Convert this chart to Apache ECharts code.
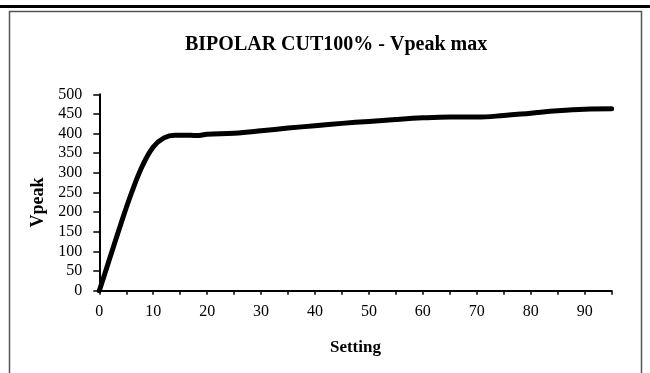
<!DOCTYPE html>
<html>
<head>
<meta charset="utf-8">
<script src="https://cdn.jsdelivr.net/npm/echarts@6/dist/echarts.min.js"></script>
<style>
  html, body { margin: 0; padding: 0; background: #fff; }
  #chart { width: 650px; height: 373px; }
</style>
</head>
<body>
<div id="chart"></div>
<script>
// Vpeak measured against generator setting
const settings = [0, 2, 4, 6, 8, 10, 12, 14, 16, 18, 20, 25, 30, 35, 40, 45, 50, 55, 60, 65, 70, 75, 80, 85, 90, 95];
const vpeak    = [0, 85, 170, 250, 318, 366, 389, 396, 396, 395, 398, 401, 407, 414, 420, 426, 431, 436, 440, 442, 442, 446, 452, 458, 462, 463];
const yTicks = { min: 0, max: 500, step: 50 };
const xTicks = { min: 0, max: 95, step: 5, labelStep: 10 };

const serif = '"Liberation Serif", "DejaVu Serif", serif';
const chart = echarts.init(document.getElementById('chart'), null, { renderer: 'canvas' });

chart.setOption({
  animation: false,
  backgroundColor: '#fff',
  title: {
    text: 'BIPOLAR CUT100% - Vpeak max',
    left: 180,
    top: 30,
    textStyle: { fontFamily: serif, fontWeight: 'bold', fontSize: 20, color: '#000' }
  },
  graphic: [
    // page header, cut off at the top edge
    { type: 'text', left: 'center', top: -11, style: { text: 'DEEP COAG', font: '15px ' + serif, fill: '#000' } },
    { type: 'rect', shape: { x: 0, y: 5, width: 650, height: 3 }, style: { fill: '#000' } },
    // chart frame
    { type: 'polyline', shape: { points: [[9.5, 380], [9.5, 11.5], [641.5, 11.5], [641.5, 380]] },
      style: { stroke: '#555', lineWidth: 1.5, fill: null } }
  ],
  grid: { left: 99.3, right: 38.4, top: 94.3, bottom: 82.3 },
  xAxis: {
    type: 'value',
    min: xTicks.min, max: xTicks.max, interval: xTicks.step,
    name: 'Setting',
    nameLocation: 'middle',
    nameGap: 48,
    nameTextStyle: { fontFamily: serif, fontWeight: 'bold', fontSize: 17, color: '#000' },
    axisLine: { show: true, lineStyle: { color: '#000', width: 2 } },
    axisTick: { show: true, inside: false, length: 4, lineStyle: { color: '#000', width: 1.5 } },
    axisLabel: {
      margin: 13,
      fontFamily: serif, fontSize: 16, color: '#000',
      formatter: v => (v % xTicks.labelStep === 0 ? String(v) : '')
    },
    splitLine: { show: false }
  },
  yAxis: {
    type: 'value',
    min: yTicks.min, max: yTicks.max, interval: yTicks.step,
    name: 'Vpeak',
    nameLocation: 'middle',
    nameGap: 48,
    nameTextStyle: { fontFamily: serif, fontWeight: 'bold', fontSize: 18, color: '#000', padding: [0, 20, 0, 0] },
    axisLine: { show: true, lineStyle: { color: '#000', width: 2 } },
    axisTick: { show: true, length: 6, lineStyle: { color: '#000', width: 1.5 } },
    axisLabel: { margin: 17, fontFamily: serif, fontSize: 16, color: '#000' },
    splitLine: { show: false }
  },
  series: [{
    type: 'line',
    data: settings.map((s, i) => [s, vpeak[i]]),
    smooth: 0.4,
    showSymbol: false,
    lineStyle: { color: '#000', width: 5, cap: 'round', join: 'round' }
  }]
});
</script>
</body>
</html>
